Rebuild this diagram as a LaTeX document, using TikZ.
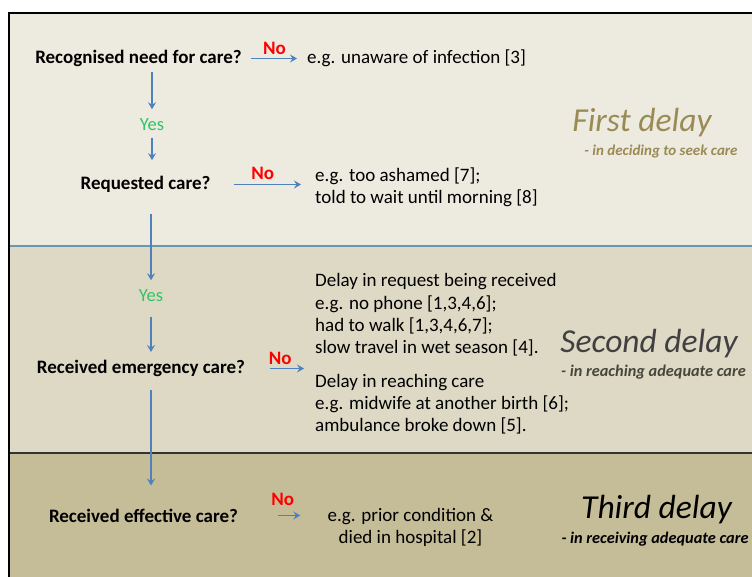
\documentclass[tikz,border=0pt]{standalone}
\usepackage{fontspec}
\setmainfont{Carlito}
\usepackage{tikz}
\usetikzlibrary{arrows.meta,positioning,calc}
\definecolor{bandA}{HTML}{EDEAE0}
\definecolor{bandB}{HTML}{DDD9C5}
\definecolor{bandC}{HTML}{C5BC98}
\definecolor{flowblue}{HTML}{4F81BD}
\definecolor{nored}{HTML}{FF0000}
\definecolor{yesgreen}{HTML}{33C266}
\definecolor{firstcol}{HTML}{9A8B55}
\definecolor{secondcol}{HTML}{404040}
\definecolor{sepblue}{HTML}{6699AA}
\tikzset{
question/.style={font=\bfseries\fontsize{19}{22}\selectfont, inner sep=0pt},
example/.style={font=\fontsize{19}{22.3}\selectfont, inner sep=0pt, align=left},
flow/.style={draw=flowblue, line width=1.3pt, -{Stealth[length=7pt,width=8pt,inset=2.5pt]}},
nolabel/.style={font=\bfseries\fontsize{19}{22}\selectfont, text=nored, inner sep=0pt},
yeslabel/.style={font=\fontsize{18.5}{21}\selectfont, text=yesgreen, inner sep=0pt},
delay/.style={font=\itshape\fontsize{33.5}{36}\selectfont, inner sep=0pt},
delaysub/.style={font=\bfseries\itshape\fontsize{16.3}{18}\selectfont, inner sep=0pt}
}

\begin{document}
\begin{tikzpicture}[x=1pt,y=-1pt,every node/.append style={yshift=-1.5pt}]
\useasboundingbox (0,0) rectangle (752,577);
\fill[white] (0,0) rectangle (752,577);
\fill[bandA] (9,13) rectangle (752,246);
\fill[bandB] (9,246) rectangle (752,453);
\fill[bandC] (9,453) rectangle (752,577);
\draw[sepblue, line width=2pt] (9,246) -- (752,246);
\draw[black!80, line width=1.5pt] (9,453) -- (752,453);
\draw[black, line width=2pt] (9,577) -- (9,13) -- (752,13);

\node[question] (recog) at (138.5,57) {Recognised need for care?};
\node[example, anchor=west] (ex1) at (307,57) {e.g. unaware of infection [3]};
\node[yeslabel] (yes1) at (152,123) {Yes};
\node[question] (req) at (145.5,183) {Requested care?};
\node[example, anchor=west] (ex2) at (315,186) {e.g. too ashamed [7];\\ told to wait until morning [8]};
\node[yeslabel] (yes2) at (151,294) {Yes};
\node[question] (emerg) at (141,367) {Received emergency care?};
\node[example, anchor=west] (ex3) at (315,352.5) {Delay in request being received\\
e.g. no phone [1,3,4,6];\\
had to walk [1,3,4,6,7];\\
slow travel in wet season [4].\\[11pt]
Delay in reaching care\\
e.g. midwife at another birth [6];\\
ambulance broke down [5].};
\node[question] (effect) at (143.5,514) {Received effective care?};
\node[example, align=center] (ex4) at (410.5,526) {e.g. prior condition \&\\ died in hospital [2]};

\node[delay, text=firstcol] (d1) at (642,121) {First delay};
\node[delaysub, text=firstcol, font=\bfseries\itshape\fontsize{15}{17}\selectfont] (s1) at (661,150) {- in deciding to seek care};
\node[delay, text=secondcol] (d2) at (649,342) {Second delay};
\node[delaysub, text=secondcol!90!olive] (s2) at (653.5,371) {- in reaching adequate care};
\node[delay, text=black] (d3) at (656.5,508) {Third delay};
\node[delaysub, text=black] (s3) at (655,538) {- in receiving adequate care};

\draw[flow, shorten <=9pt, shorten >=10pt] (recog.east) -- node[nolabel, midway, above=5pt]{No} (ex1.west);
\draw[flow, shorten <=23pt, shorten >=14pt] (req.east) -- node[nolabel, midway, above=6pt]{No} (req.east -| ex2.west);
\draw[flow, shorten <=25pt, shorten >=11pt] (emerg.east) -- node[nolabel, midway, above=5pt]{No} (emerg.east -| ex3.west);
\draw[flow, shorten <=40pt, shorten >=27pt] (effect.east) -- node[nolabel, midway, above=11pt]{No} (effect.east -| ex4.west);

\draw[flow, shorten <=5pt, shorten >=9pt] (recog.south -| yes1) -- (yes1.north);
\draw[flow, shorten <=7pt, shorten >=16pt] (yes1.south) -- (req.north -| yes1);
\draw[flow, shorten <=21pt, shorten >=9pt] (req.south -| yes2) -- (yes2.north);
\draw[flow, shorten <=15pt, shorten >=8pt] (yes2.south) -- (emerg.north -| yes2);
\draw[flow, shorten <=13pt, shorten >=23pt] (emerg.south -| yes2) -- (effect.north -| yes2);
\end{tikzpicture}
\end{document}
